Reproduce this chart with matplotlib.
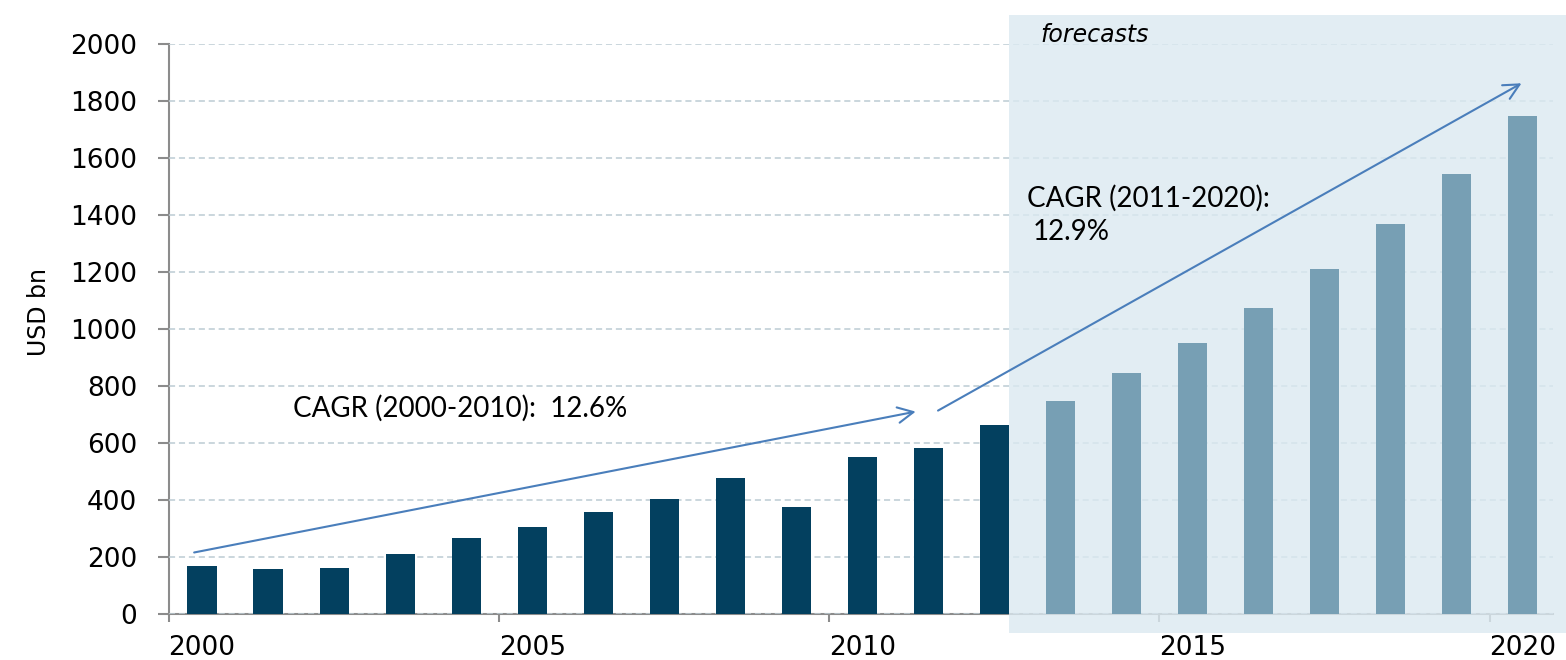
import numpy as np
import matplotlib
matplotlib.use("Agg")
import matplotlib.pyplot as plt

# market size, USD bn (2013 onward are forecasts)
years = list(range(2000, 2021))
values = [170, 157, 163, 210, 267, 306, 358, 404, 477, 375, 551, 582, 663,
          747, 846, 951, 1074, 1211, 1368, 1544, 1747]
first_forecast = 2013
label_years = [2000, 2005, 2010, 2015, 2020]

dark = '#03405f'
light = '#779fb4'
shade = '#dbe9f1'
arrow_col = '#4a7ebb'
bar_w = 0.44

fig = plt.figure(figsize=(15.66, 6.6), dpi=100)
ax = fig.add_axes([0.1079, 0.0697, 0.8838, 0.8636])

cols = [dark if y < first_forecast else light for y in years]
ax.bar(years, values, width=bar_w, color=cols, zorder=4)

ax.set_xlim(1999.52, 2020.46)
ax.set_ylim(0, 2000)

# forecast background, spilling slightly outside the axes
ax.axvspan(first_forecast - 1 + bar_w / 2, 2020.66, ymin=-0.033, ymax=1.051,
           color=shade, alpha=0.8, lw=0, zorder=2.6, clip_on=False)

ax.set_yticks(np.arange(0, 2001, 200))
ax.yaxis.grid(True, linestyle=(0, (4, 2.5)), color='#bccbd3', lw=1.1)
ax.set_axisbelow(False)
for gl in ax.get_ygridlines():
    gl.set_zorder(2.7)

ax.set_xticks(label_years)
ax.set_xticks([y - 0.5 for y in label_years], minor=True)
ax.tick_params(axis='x', which='major', length=0, pad=15, labelsize=19)
ax.tick_params(axis='x', which='minor', length=6, width=1.5, color='#8c8c8c')
ax.tick_params(axis='y', length=8, width=1.5, color='#8c8c8c', pad=15, labelsize=19)

for s in ['top', 'right']:
    ax.spines[s].set_visible(False)
for s in ['left', 'bottom']:
    ax.spines[s].set_color('#8c8c8c')
    ax.spines[s].set_linewidth(1.5)

ax.set_ylabel('USD bn', fontsize=17, labelpad=20)
ax.yaxis.set_label_coords(-0.085, 0.53)

# CAGR arrows
ax.annotate('', xy=(2010.85, 712), xytext=(1999.84, 214),
            arrowprops=dict(arrowstyle='->', color=arrow_col, lw=1.5, mutation_scale=28),
            zorder=6)
ax.annotate('', xy=(2020.02, 1867), xytext=(2011.11, 709),
            arrowprops=dict(arrowstyle='->', color=arrow_col, lw=1.5, mutation_scale=28),
            zorder=6)

ax.text(2001.38, 723, 'CAGR (2000-2010):  12.6%', fontsize=20, family='Lato',
        va='center', ha='left', zorder=7)
ax.text(2012.5, 1460, 'CAGR (2011-2020):', fontsize=20, family='Lato',
        va='center', ha='left', zorder=7)
ax.text(2012.58, 1340, '12.9%', fontsize=20, family='Lato',
        va='center', ha='left', zorder=7)
ax.text(2012.7, 2030, 'forecasts', fontsize=17, style='italic',
        va='center', ha='left', zorder=7)

fig.savefig('out.png', dpi=100)
